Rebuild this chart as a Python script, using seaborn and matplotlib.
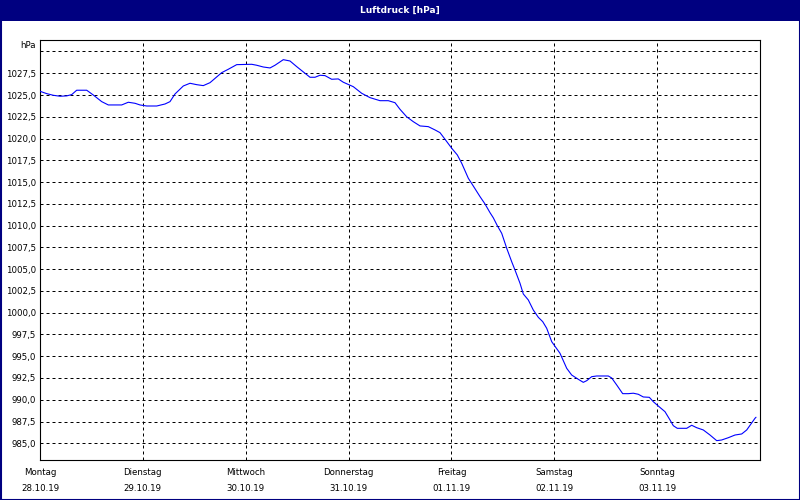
import matplotlib
matplotlib.use("Agg")
import matplotlib.pyplot as plt
import seaborn as sns
import pandas as pd
from matplotlib.patches import Rectangle

# ---- data ----
hours = [0.0, 1.56, 3.10, 4.67, 6.23, 7.40, 8.56, 10.90, 12.44, 14.40, 15.94, 19.06,
         20.60, 22.17, 23.33, 24.90, 27.23, 29.17, 30.33, 31.50, 33.44, 35.00, 36.56,
         38.10, 39.67, 42.40, 43.94, 45.90, 49.40, 50.56, 52.10, 53.67, 54.83, 56.77,
         58.33, 59.90, 61.83, 63.00, 64.17, 65.33, 66.50, 68.06, 69.60, 70.77, 73.10,
         75.06, 77.00, 79.33, 81.27, 82.83, 84.00, 85.56, 87.10, 88.67, 90.60, 92.17,
         93.33, 94.50, 96.06, 97.37, 98.40, 99.94, 101.10, 102.67, 103.83, 105.00,
         105.77, 106.70, 107.73, 108.90, 110.06, 110.83, 112.00, 112.77, 113.94,
         115.10, 116.27, 117.30, 118.23, 119.40, 120.40, 121.33, 122.90, 124.06,
         125.60, 126.77, 127.56, 128.73, 129.90, 132.60, 133.40, 134.56, 135.96,
         137.27, 138.44, 139.60, 140.77, 142.17, 143.10, 144.27, 145.83, 147.00,
         147.77, 148.70, 150.90, 152.06, 153.23, 154.77, 156.33, 157.90, 159.06,
         160.60, 162.17, 163.73, 164.90, 166.83, 167.07]
pressure = [1025.43, 1025.16, 1024.97, 1024.86, 1024.90, 1025.05, 1025.55, 1025.55,
            1025.00, 1024.24, 1023.86, 1023.86, 1024.17, 1024.05, 1023.86, 1023.74,
            1023.74, 1023.97, 1024.24, 1025.12, 1026.04, 1026.35, 1026.19, 1026.08,
            1026.42, 1027.57, 1027.96, 1028.49, 1028.53, 1028.42, 1028.22, 1028.11,
            1028.42, 1029.06, 1028.91, 1028.26, 1027.50, 1027.04, 1027.04, 1027.27,
            1027.23, 1026.81, 1026.85, 1026.47, 1025.96, 1025.20, 1024.70, 1024.35,
            1024.35, 1024.12, 1023.36, 1022.50, 1021.94, 1021.45, 1021.37, 1020.99,
            1020.68, 1019.92, 1018.89, 1018.12, 1017.16, 1015.44, 1014.55, 1013.33,
            1012.49, 1011.49, 1010.90, 1010.00, 1009.12, 1007.40, 1005.86, 1004.90,
            1003.38, 1002.15, 1001.46, 1000.31, 999.47, 998.97, 998.21, 996.67,
            995.98, 995.34, 993.61, 992.84, 992.35, 992.00, 992.19, 992.65, 992.73,
            992.73, 992.50, 991.70, 990.70, 990.70, 990.75, 990.63, 990.32, 990.28,
            989.78, 989.28, 988.63, 987.68, 987.02, 986.72, 986.72, 987.07, 986.79,
            986.53, 985.95, 985.30, 985.38, 985.64, 985.95, 986.07, 986.53, 987.87,
            987.99]

day_names = ["Montag", "Dienstag", "Mittwoch", "Donnerstag", "Freitag", "Samstag", "Sonntag"]
day_dates = ["28.10.19", "29.10.19", "30.10.19", "31.10.19", "01.11.19", "02.11.19", "03.11.19"]
day_hours = [0, 24, 48, 72, 96, 120, 144]
y_ticks = [985.0, 987.5, 990.0, 992.5, 995.0, 997.5, 1000.0, 1002.5, 1005.0, 1007.5,
           1010.0, 1012.5, 1015.0, 1017.5, 1020.0, 1022.5, 1025.0, 1027.5, 1030.0]
title = "Luftdruck [hPa]"
unit = "hPa"

df = pd.DataFrame({"h": hours, "p": pressure})

sns.set_style("white")
plt.rcParams["font.family"] = ["DejaVu Sans"]

navy = "#000080"
fig = plt.figure(figsize=(8, 5), dpi=100, facecolor="white")
ax = fig.add_axes([40 / 800, 1 - 460 / 500, 720 / 800, 420 / 500])
ax.set_facecolor("white")

sns.lineplot(data=df, x="h", y="p", ax=ax, color="#0000FF", linewidth=0.8, zorder=3)

ax.set_xlim(0, 168)
ax.set_ylim(983.08, 1031.32)

ax.set_yticks(y_ticks)
ax.set_yticklabels([("%.1f" % v).replace(".", ",") if v < 1030 else "" for v in y_ticks])
ax.set_xticks(day_hours)
ax.set_xticklabels([f"{n}\n{d}" for n, d in zip(day_names, day_dates)], linespacing=1.9)

ax.grid(True, color="black", linestyle=(0, (3, 3)), linewidth=0.72)
ax.tick_params(axis="y", length=0, pad=3, labelsize=6.2, colors="black")
ax.tick_params(axis="x", length=3, width=0.72, pad=3, labelsize=6.2, colors="black",
               direction="out")
for s in ax.spines.values():
    s.set_color("black")
    s.set_linewidth(0.8)
ax.set_xlabel("")
ax.set_ylabel("")

fig.text(36 / 800, 1 - 45 / 500, unit, ha="right", va="center", fontsize=6.2, color="black")

# title bar and window border
fig.patches.append(Rectangle((0, 1 - 21 / 500), 1, 21 / 500, transform=fig.transFigure,
                             facecolor=navy, edgecolor="none", zorder=0))
fig.patches.append(Rectangle((0.5 / 800, 0.5 / 500), 799 / 800, 499 / 500, transform=fig.transFigure,
                             facecolor="none", edgecolor=navy, linewidth=1.5, zorder=0))
fig.text(0.5, 1 - 10 / 500, title, ha="center", va="center", fontsize=6.5,
         fontweight="bold", color="white")

fig.savefig("out.png", dpi=100, facecolor="white")
